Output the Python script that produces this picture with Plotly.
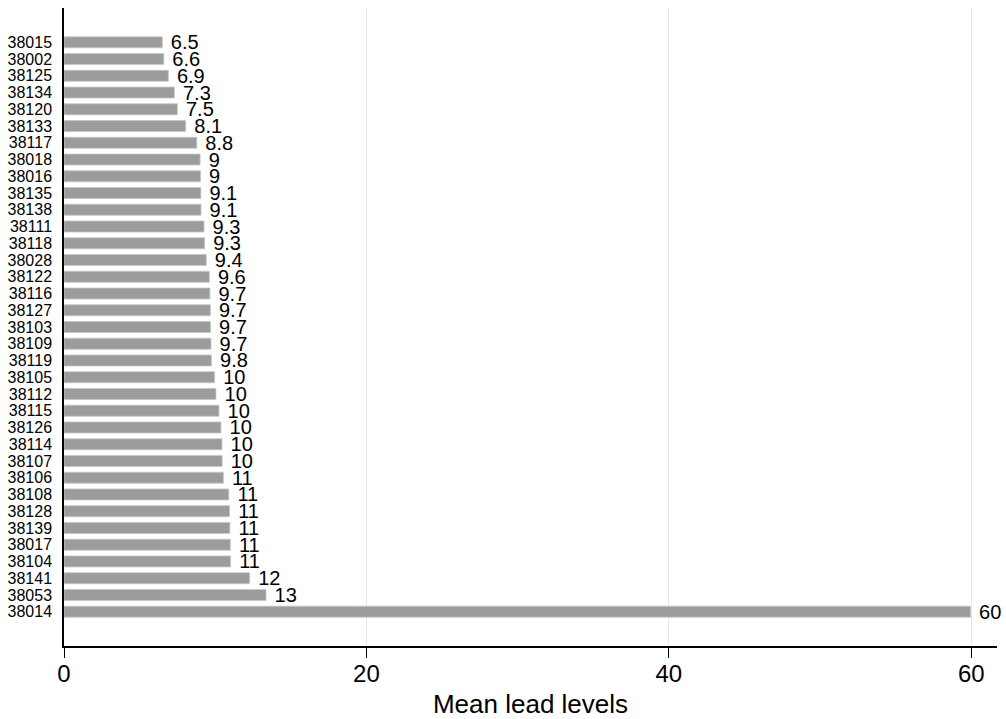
import plotly.graph_objects as go

sites = ["38015", "38002", "38125", "38134", "38120", "38133", "38117", "38018", "38016",
         "38135", "38138", "38111", "38118", "38028", "38122", "38116", "38127", "38103",
         "38109", "38119", "38105", "38112", "38115", "38126", "38114", "38107", "38106",
         "38108", "38128", "38139", "38017", "38104", "38141", "38053", "38014"]
mean_lead = [6.5, 6.6, 6.9, 7.3, 7.5, 8.05, 8.78, 9.0, 9.03, 9.05, 9.06, 9.26, 9.3, 9.41,
             9.61, 9.65, 9.68, 9.69, 9.72, 9.75, 9.96, 10.05, 10.25, 10.38, 10.45, 10.46,
             10.54, 10.9, 10.95, 10.97, 11.0, 11.02, 12.28, 13.36, 59.95]
x_ticks = [0, 20, 40, 60]

fig = go.Figure(go.Bar(
    x=mean_lead, y=sites, orientation="h",
    marker=dict(color="#9c9c9c", line=dict(color="#c8c8c8", width=0.8)),
    width=0.66,
    texttemplate="\u00a0%{x:.2~g}", textposition="outside",
    textfont=dict(family="Liberation Sans, Arial", size=20, color="black"),
    constraintext="none",
    cliponaxis=False,
))

fig.update_layout(
    width=1006, height=719,
    margin=dict(l=64, r=9, t=8, b=73),
    paper_bgcolor="white", plot_bgcolor="white",
    font=dict(family="Liberation Sans, Arial", color="black"),
    showlegend=False,
    xaxis=dict(
        range=[0, 61.7], tickvals=x_ticks, ticktext=[str(v) for v in x_ticks],
        showgrid=True, gridcolor="#dfecec", gridwidth=1.2,
        zeroline=False, showline=True, linecolor="black", linewidth=1.5,
        ticks="outside", ticklen=10, tickcolor="black", tickwidth=1.2,
        tickfont=dict(size=24), ticklabelstandoff=-5,
        title=dict(text="Mean lead levels", font=dict(size=26), standoff=9),
        automargin=False,
    ),
    yaxis=dict(
        categoryorder="array", categoryarray=sites,
        tickmode="array", tickvals=sites, ticktext=sites,
        autorange=False, range=[36.05, -2.05],
        showgrid=False, zeroline=False, showline=True, linecolor="black", linewidth=1.5,
        ticks="", tickfont=dict(size=16), ticklabelstandoff=7,
        automargin=False,
    ),
)

fig.write_html("out.html", config={"displayModeBar": False},
               post_script="document.body.style.margin='0';")
